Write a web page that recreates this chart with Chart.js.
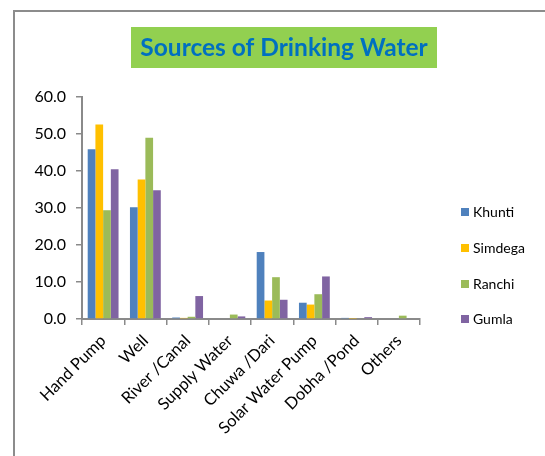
<!DOCTYPE html>
<html>
<head>
<meta charset="utf-8">
<script src="https://cdn.jsdelivr.net/npm/chart.js@4"></script>
<style>
  html, body { margin: 0; padding: 0; background: #fff; }
  #wrap { position: relative; width: 545px; height: 456px; overflow: hidden; }
</style>
</head>
<body>
<div id="wrap"><canvas id="chart" width="545" height="456"></canvas></div>
<script>
const categories = ['Hand Pump', 'Well', 'River /Canal', 'Supply Water', 'Chuwa /Dari', 'Solar Water Pump', 'Dobha /Pond', 'Others'];
const khunti  = [45.9, 30.2, 0.4, 0.0, 18.1, 4.4, 0.3, 0.0];
const simdega = [52.6, 37.7, 0.3, 0.0, 5.0, 3.9, 0.1, 0.0];
const ranchi  = [29.4, 49.0, 0.6, 1.2, 11.3, 6.7, 0.0, 0.9];
const gumla   = [40.5, 34.8, 6.2, 0.7, 5.2, 11.5, 0.5, 0.0];
const yTicks  = [0, 10, 20, 30, 40, 50, 60];

const FONT = 'Lato, "Open Sans", sans-serif';

// frame, title box and legend drawn around the chart
const decor = {
    id: 'decor',
    beforeDraw(chart) {
        const ctx = chart.ctx;
        ctx.save();
        ctx.strokeStyle = '#8c8c8c';
        ctx.lineWidth = 2;
        ctx.strokeRect(14, 11, 600, 500);
        ctx.fillStyle = '#92D050';
        ctx.fillRect(131, 27, 306, 41);
        ctx.fillStyle = '#0070C0';
        ctx.font = 'bold 24.5px ' + FONT;
        ctx.textAlign = 'center';
        ctx.textBaseline = 'middle';
        ctx.fillText('Sources of Drinking Water', 284, 48);
        ctx.restore();
    },
    afterDraw(chart) {
        const ctx = chart.ctx;
        const ys = [212, 248, 284, 319];
        ctx.save();
        ctx.font = '14px ' + FONT;
        ctx.textBaseline = 'middle';
        chart.data.datasets.forEach((ds, i) => {
            ctx.fillStyle = ds.backgroundColor;
            ctx.fillRect(461, ys[i] - 4, 8, 8);
            ctx.fillStyle = '#000';
            ctx.fillText(ds.label, 473, ys[i]);
        });
        ctx.restore();
    }
};

new Chart(document.getElementById('chart'), {
    type: 'bar',
    data: {
        labels: categories,
        datasets: [
            { label: 'Khunti', data: khunti, backgroundColor: '#4F81BD' },
            { label: 'Simdega', data: simdega, backgroundColor: '#FFC000' },
            { label: 'Ranchi', data: ranchi, backgroundColor: '#9BBB59' },
            { label: 'Gumla', data: gumla, backgroundColor: '#8064A2' }
        ]
    },
    options: {
        responsive: false,
        animation: false,
        layout: { padding: { left: 20, top: 97, right: 125, bottom: 0 } },
        datasets: { bar: { categoryPercentage: 0.73, barPercentage: 1.0 } },
        plugins: { legend: { display: false }, title: { display: false }, tooltip: { enabled: false } },
        scales: {
            x: {
                grid: { drawOnChartArea: false, tickLength: 6, color: '#8a8a8a', lineWidth: 1.5 },
                border: { color: '#8a8a8a', width: 2 },
                ticks: { color: '#000', font: { family: FONT, size: 16.5 }, maxRotation: 45, minRotation: 45, padding: 6 },
                afterFit(scale) { scale.height = 137; }
            },
            y: {
                min: 0, max: 60,
                afterBuildTicks(scale) { scale.ticks = yTicks.map(v => ({ value: v })); },
                grid: { drawOnChartArea: false, tickLength: 6, color: '#8a8a8a', lineWidth: 1.5 },
                border: { color: '#8a8a8a', width: 2 },
                ticks: { color: '#000', font: { family: FONT, size: 16 }, padding: 10, callback: v => v.toFixed(1) },
                afterFit(scale) { scale.width = 62; }
            }
        }
    },
    plugins: [decor]
});
</script>
</body>
</html>
